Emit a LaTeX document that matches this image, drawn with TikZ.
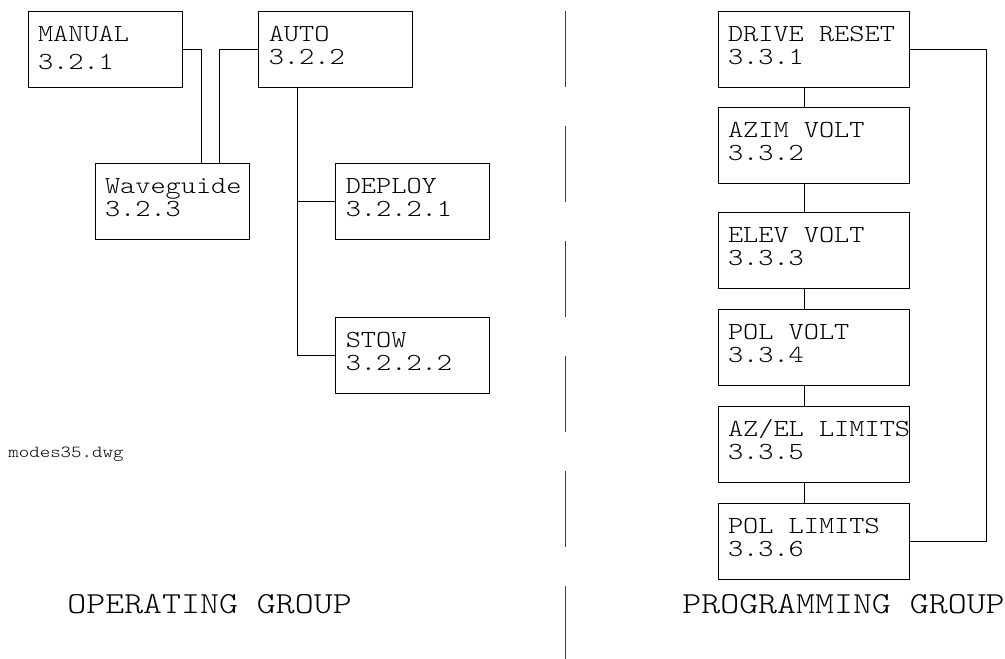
\documentclass[tikz,border=0pt]{standalone}
\usepackage{fontspec}
\newfontfamily\drw[Extension=.otf, FakeStretch=1.18]{lmmonolt10-regular}
\newcommand{\gap}{\hphantom{X}}
\usetikzlibrary{positioning, calc}

\begin{document}
\begin{tikzpicture}[
  x=1pt, y=-1pt, node distance = 20pt and 76pt,
  every path/.style = {line width=0.8pt},
  blk/.style  = {rectangle, draw, align=left, text width=134pt,
                 inner xsep=10pt, inner ysep=0pt,
                 text height=30pt, text depth=46pt,
                 font=\drw\fontsize{24.5}{23}\selectfont},
  pblk/.style = {blk, text width=171pt},
  grp/.style  = {anchor=base west, inner sep=0pt,
                 font=\drw\fontsize{30.6}{34}\selectfont},
  sep/.style  = {draw=black!75, dash pattern=on 76pt off 39pt}
]
  \useasboundingbox (0,0) rectangle (1005,659);

  % operating group
  \node[blk] (manual) at (105,49) {MANUAL\\[5pt]3.2.1};
  \node[blk, right=of manual] (auto) {AUTO\\3.2.2};
  \node[blk] (wg) at (172,201) {Waveguide\\3.2.3};
  \node[blk, right=86pt of wg] (deploy) {DEPLOY\\3.2.2.1};
  \node[blk, below=78pt of deploy] (stow) {STOW\\3.2.2.2};

  \draw (manual.east) -| ([xshift=29pt]wg.north);
  \draw (auto.west) -| ([xshift=47pt]wg.north);
  \coordinate (trunk) at ([xshift=-38.5pt]auto.south);
  \draw (trunk) |- (stow.west);
  \draw (deploy.west) -- (deploy.west -| trunk);

  % programming group
  \node[pblk] (reset) at (813.5,49) {DRIVE\gap RESET\\3.3.1};
  \node[pblk, below=of reset] (azim) {AZIM\gap VOLT\\3.3.2};
  \node[pblk, below=28pt of azim] (elev) {ELEV\gap VOLT\\3.3.3};
  \node[pblk, below=of elev] (pol) {POL\gap VOLT\\3.3.4};
  \node[pblk, below=of pol] (azel) {\mbox{AZ/EL\gap LIMITS}\\3.3.5};
  \node[pblk, below=of azel] (pollim) {POL\gap LIMITS\\3.3.6};

  \foreach \a/\b in {reset/azim, azim/elev, elev/pol, pol/azel, azel/pollim}
    \draw ([xshift=-9.5pt]\a.south) -- ([xshift=-9.5pt]\b.north);
  \draw (reset.east) -- ++(77,0) |- (pollim.east);

  % labels and divider
  \node[anchor=base west, inner sep=0pt, font=\drw\fontsize{16.9}{19}\selectfont]
    (dwg) at (8,457) {modes35.dwg};
  \node[grp] (opgrp) at (67,613) {OPERATING\gap GROUP};
  \node[grp] (prgrp) at (682,613) {PROGRAMMING\gap GROUP};
  \draw[sep] (565,11) -- (565,659);
\end{tikzpicture}
\end{document}
